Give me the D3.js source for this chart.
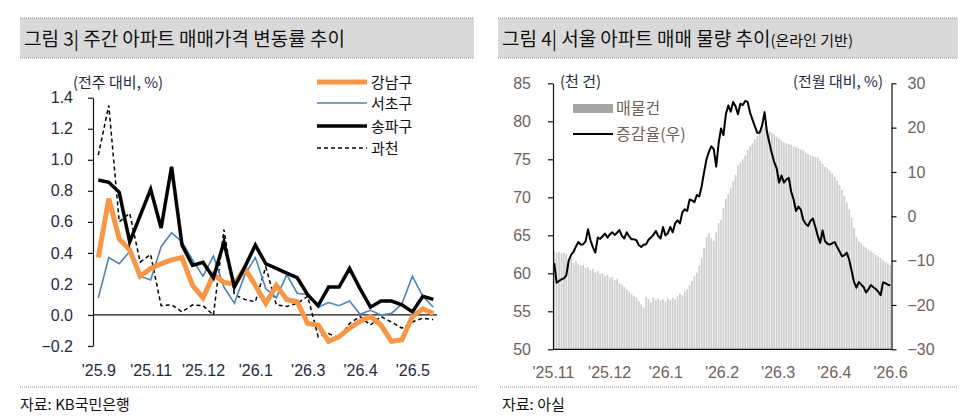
<!DOCTYPE html>
<html>
<head>
<meta charset="utf-8">
<script src="https://cdn.jsdelivr.net/npm/d3@7"></script>
<style>
  body { margin: 0; background: #fff; }
  svg { display: block; font-family: "Noto Sans CJK KR", "Noto Sans", sans-serif; }
</style>
</head>
<body>
<div id="chart"></div>
<script>
// ---- 그림 3: 주간 아파트 매매가격 변동률 (%), 33주
var weekLabels = ["'25.9", "'25.11", "'25.12", "'26.1", "'26.3", "'26.4", "'26.5"];
var weekLabelIdx = [0, 5, 10, 15, 20, 25, 30];
var gangnam = [0.37, 0.75, 0.49, 0.42, 0.25, 0.30, 0.33, 0.355, 0.37, 0.19, 0.11, 0.26, 0.21, 0.20, 0.30, 0.19, 0.075,
  0.19, 0.10, 0.085, -0.055, -0.065, -0.17, -0.14, -0.085, -0.04, -0.01, -0.065, -0.17, -0.16, -0.01, 0.04, 0.01];
var seocho = [0.11, 0.37, 0.33, 0.41, 0.25, 0.225, 0.44, 0.53, 0.47, 0.355, 0.25, 0.38, 0.18, 0.075, 0.26, 0.37, 0.17,
  0.11, 0.26, 0.14, 0.13, 0.05, 0.08, 0.06, 0.09, 0.005, 0.03, 0.0, 0.01, 0.07, 0.25, 0.12, 0.05];
var songpa = [0.87, 0.855, 0.79, 0.47, 0.64, 0.81, 0.56, 0.955, 0.45, 0.32, 0.34, 0.24, 0.47, 0.18, 0.31, 0.45, 0.33,
  0.30, 0.27, 0.24, 0.13, 0.06, 0.18, 0.18, 0.30, 0.17, 0.05, 0.09, 0.09, 0.065, 0.02, 0.12, 0.10];
var gwacheon = [1.03, 1.35, 0.60, 0.655, 0.34, 0.39, 0.06, 0.065, 0.02, 0.065, 0.06, 0.0, 0.55, 0.13, 0.10, 0.085, 0.31,
  0.065, 0.055, 0.075, 0.12, -0.14, -0.12, -0.15, -0.055, -0.01, -0.065, -0.01, -0.045, -0.085, -0.045, -0.02, -0.03];
var leftTicks = [-0.2, 0, 0.2, 0.4, 0.6, 0.8, 1.0, 1.2, 1.4];

// ---- 그림 4: 서울 아파트 매물 (천 건) / 전월 대비 증감율 (%)
var dayLabels = ["'25.11", "'25.12", "'26.1", "'26.2", "'26.3", "'26.4", "'26.6"];
var listings = [62.9, 62.7, 62.8, 62.6, 62.7, 62.5, 61.6, 61.9, 61.4, 61.6, 61.2, 61.0, 61.1, 60.7, 60.8, 60.4, 60.6, 60.1, 60.3, 59.9,
  60.0, 59.6, 59.8, 59.4, 59.5, 59.1, 59.3, 58.7, 58.5, 58.2, 57.9, 57.6, 57.3, 57.0, 56.8, 56.3, 55.9, 55.5, 56.9, 56.6,
  56.2, 56.8, 56.5, 56.7, 56.4, 56.6, 56.3, 56.7, 56.5, 56.8, 56.6, 57.0, 57.3, 57.1, 57.6, 57.9, 58.4, 59.0, 59.6, 60.1,
  61.0, 62.0, 63.3, 64.8, 65.3, 64.6, 64.3, 65.4, 66.6, 67.0, 68.6, 69.8, 70.4, 71.2, 72.1, 73.0, 74.2, 74.6, 75.0, 75.5,
  76.2, 76.7, 77.1, 77.6, 78.1, 78.6, 79.0, 79.2, 78.9, 78.7, 78.5, 78.3, 78.0, 77.7, 77.5, 77.2, 77.1, 77.0, 76.9, 76.7,
  76.6, 76.4, 76.3, 76.2, 75.9, 75.7, 75.5, 75.4, 75.3, 75.2, 74.8, 74.4, 74.0, 73.8, 73.5, 73.1, 72.7, 72.2, 71.6, 71.0,
  70.2, 69.3, 68.4, 67.3, 66.0, 64.8, 64.2, 64.0, 63.6, 63.4, 63.1, 62.9, 62.7, 62.4, 62.2, 62.0, 61.7, 61.5, 61.3, 61.1];
var changeRate = [-10.5, -15.0, -14.6, -14.2, -14.0, -13.3, -10.0, -8.7, -8.0, -6.8, -5.8, -6.4, -6.3, -5.6, -2.9, -5.4, -7.0, -8.2, -4.8, -5.1,
  -4.5, -3.9, -4.8, -4.1, -3.6, -4.2, -3.7, -3.1, -4.4, -5.0, -3.6, -4.5, -5.2, -5.2, -5.4, -6.5, -6.9, -6.4, -6.3, -5.3,
  -4.8, -4.2, -3.3, -4.4, -5.0, -2.4, -4.3, -3.8, -2.4, -3.6, -1.6, -0.9, -1.6, 0.9, 1.6, 1.2, 3.8, 3.6, 3.2, 4.8,
  4.5, 6.8, 10.0, 12.9, 14.6, 15.8, 15.1, 11.2, 16.5, 19.8, 18.3, 23.0, 25.0, 23.6, 25.8, 24.8, 23.0, 25.4, 25.1, 26.0,
  25.8, 23.4, 21.8, 20.3, 18.8, 18.9, 20.5, 23.5, 19.0, 16.6, 14.2, 12.2, 10.8, 7.6, 9.2, 7.6, 8.3, 8.7, 5.6, 3.8,
  1.2, 2.2, 1.5, -0.8, -1.7, -2.2, -1.0, -0.5, -2.4, -4.4, -6.0, -3.2, -5.6, -6.2, -6.4, -6.1, -5.8, -6.9, -7.9, -9.0,
  -8.8, -8.2, -9.8, -12.3, -14.8, -16.1, -14.8, -15.4, -16.0, -17.2, -16.4, -15.5, -16.0, -16.4, -17.0, -17.8, -14.9, -15.1, -15.4, -15.6];
var rightLeftTicks = [50, 55, 60, 65, 70, 75, 80, 85];
var rightRightTicks = [-30, -20, -10, 0, 10, 20, 30];

var W = 969, H = 418;
var navy = "#1f2a44", brown = "#6e6259";

var svg = d3.select("#chart").append("svg")
  .attr("width", W)
  .attr("height", H);

// title bars + dotted rules
function titleBar(x, w, parts) {
  svg.append("rect").attr("x", x).attr("y", 18).attr("width", w).attr("height", 40).attr("fill", "#d9d9d9");
  [18, 58].forEach(function(y) {
    svg.append("line").attr("x1", x).attr("x2", x + w).attr("y1", y).attr("y2", y)
      .attr("stroke", "#8c8c8c").attr("stroke-dasharray", "1,1");
  });
  var t = svg.append("text").attr("x", x + 4).attr("y", 46).attr("fill", "#111");
  parts.forEach(function(p) {
    t.append("tspan").attr("font-size", p[1]).text(p[0]);
  });
}
titleBar(20, 454, [["그림 3| 주간 아파트 매매가격 변동률 추이", 19]]);
titleBar(498, 460, [["그림 4| 서울 아파트 매매 물량 추이", 19], ["(온라인 기반)", 15]]);

// footer
[[20, 457], [500, 458]].forEach(function(d) {
  svg.append("line").attr("x1", d[0]).attr("x2", d[0] + d[1]).attr("y1", 387).attr("y2", 387)
    .attr("stroke", "#8c8c8c").attr("stroke-dasharray", "1,1");
});
svg.append("text").attr("x", 20).attr("y", 410).attr("font-size", 15).attr("fill", "#111").text("자료: KB국민은행");
svg.append("text").attr("x", 502).attr("y", 410).attr("font-size", 15).attr("fill", "#111").text("자료: 아실");

// ================= left chart =================
var x1 = d3.scaleLinear().domain([0, gangnam.length - 1]).range([98.3, 433.3]);
var y1 = d3.scaleLinear().domain([-0.2, 1.4]).range([346, 97.7]);

var gL = svg.append("g");

gL.append("g")
  .attr("transform", "translate(93,0)")
  .call(d3.axisLeft(y1).tickValues(leftTicks).tickFormat(d3.format(".1f")).tickSize(5).tickSizeOuter(0).tickPadding(15))
  .call(function(g) {
    g.selectAll("path, line").attr("stroke", "#111").attr("stroke-width", 1.2);
    g.selectAll("text").attr("font-size", 16).attr("fill", navy).attr("font-family", null);
  });

gL.append("g")
  .attr("transform", "translate(0,346)")
  .call(d3.axisBottom(x1).tickValues(weekLabelIdx).tickFormat(function(d, i) { return weekLabels[i]; })
    .tickSize(0).tickPadding(18.5))
  .call(function(g) {
    g.select(".domain").remove();
    g.selectAll("text").attr("font-size", 16).attr("fill", navy).attr("font-family", null);
  });

gL.append("line")
  .attr("x1", 93).attr("x2", 437).attr("y1", y1(0)).attr("y2", y1(0))
  .attr("stroke", "#111").attr("stroke-width", 1.2);

var lineL = d3.line().x(function(d, i) { return x1(i); }).y(function(d) { return y1(d); });

var seriesL = [
  { name: "강남구", data: gangnam, color: "#f79646", width: 5, dash: null },
  { name: "서초구", data: seocho, color: "#4f81bd", width: 1.6, dash: null },
  { name: "송파구", data: songpa, color: "#000", width: 3.5, dash: null },
  { name: "과천", data: gwacheon, color: "#000", width: 1.5, dash: "4,3" }
];
// draw order: 과천, 서초구, 강남구, 송파구
[3, 1, 0, 2].forEach(function(k) {
  var s = seriesL[k];
  gL.append("path")
    .attr("d", lineL(s.data))
    .attr("fill", "none")
    .attr("stroke", s.color)
    .attr("stroke-width", s.width)
    .attr("stroke-linejoin", "miter")
    .attr("stroke-dasharray", s.dash);
});

// legend
var legY = [82, 103, 126, 148];
seriesL.forEach(function(s, i) {
  gL.append("line").attr("x1", 317).attr("x2", 367).attr("y1", legY[i]).attr("y2", legY[i])
    .attr("stroke", s.color).attr("stroke-width", s.width).attr("stroke-dasharray", s.dash);
  gL.append("text").attr("x", 371).attr("y", legY[i] + 6).attr("font-size", 15).attr("fill", "#111").text(s.name);
});
gL.append("text").attr("x", 73).attr("y", 88).attr("font-size", 15).attr("fill", navy).text("(전주 대비, %)");

// ================= right chart =================
var x2 = d3.scaleBand().domain(d3.range(listings.length)).range([553, 891.5]).paddingInner(0.3).paddingOuter(0.15);
var xLab = d3.scalePoint().domain(dayLabels).range([553, 890]);
var y2 = d3.scaleLinear().domain([50, 85]).range([349.3, 83.3]);
var y3 = d3.scaleLinear().domain([-30, 30]).range([349.3, 83.3]);

var gR = svg.append("g");

gR.selectAll("rect.bar")
  .data(listings)
  .enter().append("rect")
  .attr("class", "bar")
  .attr("x", function(d, i) { return x2(i); })
  .attr("width", x2.bandwidth())
  .attr("y", function(d) { return y2(d); })
  .attr("height", function(d) { return y2(50) - y2(d); })
  .attr("fill", "#cdcdcd");

var lineR = d3.line()
  .x(function(d, i) { return x2(i) + x2.bandwidth() / 2; })
  .y(function(d) { return y3(d); });

gR.append("path")
  .attr("d", lineR(changeRate))
  .attr("fill", "none")
  .attr("stroke", "#000")
  .attr("stroke-width", 2)
  .attr("stroke-linejoin", "round");

gR.append("g")
  .attr("transform", "translate(553,0)")
  .call(d3.axisLeft(y2).tickValues(rightLeftTicks).tickSize(5).tickSizeOuter(0).tickPadding(17))
  .call(function(g) {
    g.selectAll("path, line").attr("stroke", "#111").attr("stroke-width", 1.2);
    g.selectAll("text").attr("font-size", 16).attr("fill", brown).attr("font-family", null);
  });

gR.append("g")
  .attr("transform", "translate(891.5,0)")
  .call(d3.axisRight(y3).tickValues(rightRightTicks).tickSize(5).tickSizeOuter(0).tickPadding(11))
  .call(function(g) {
    g.selectAll("path, line").attr("stroke", "#111").attr("stroke-width", 1.2);
    g.selectAll("text").attr("font-size", 16).attr("fill", brown).attr("font-family", null);
  });

gR.append("g")
  .attr("transform", "translate(0,349.3)")
  .call(d3.axisBottom(xLab).tickSize(0).tickSizeOuter(0).tickPadding(17))
  .call(function(g) {
    g.select(".domain").attr("stroke", "#111").attr("stroke-width", 1.2).attr("d", "M553,0H891.5");
    g.selectAll("text").attr("font-size", 16).attr("fill", brown).attr("font-family", null);
  });

gR.append("text").attr("x", 560).attr("y", 87).attr("font-size", 15).attr("fill", navy).text("(천 건)");
gR.append("text").attr("x", 883).attr("y", 87).attr("font-size", 15).attr("fill", navy)
  .attr("text-anchor", "end").text("(전월 대비, %)");

gR.append("rect").attr("x", 573).attr("y", 104).attr("width", 40).attr("height", 9).attr("fill", "#a6a6a6");
gR.append("text").attr("x", 616).attr("y", 114).attr("font-size", 16).attr("fill", brown).text("매물건");
gR.append("line").attr("x1", 573).attr("x2", 613).attr("y1", 134).attr("y2", 134)
  .attr("stroke", "#000").attr("stroke-width", 2);
gR.append("text").attr("x", 616).attr("y", 140).attr("font-size", 16).attr("fill", brown).text("증감율(우)");
</script>
</body>
</html>
